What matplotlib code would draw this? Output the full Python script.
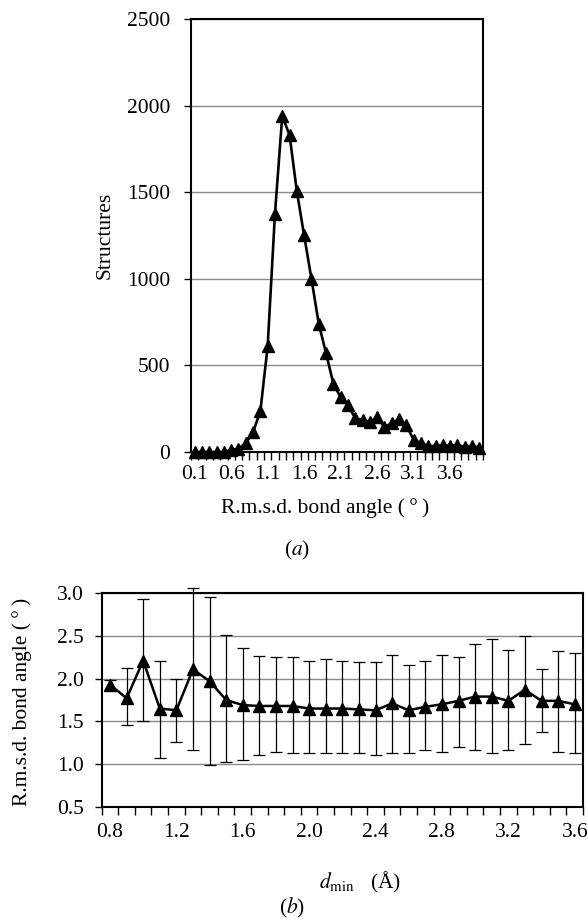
import numpy as np
import matplotlib
matplotlib.use('Agg')
import matplotlib.pyplot as plt

plt.rcParams['font.family'] = ['Liberation Serif', 'DejaVu Serif']
plt.rcParams['mathtext.fontset'] = 'stix'

# (a) histogram of r.m.s.d. bond angle
angle_bins = ['0.1', '0.2', '0.3', '0.4', '0.5', '0.6', '0.7', '0.8', '0.9', '1.0',
              '1.1', '1.2', '1.3', '1.4', '1.5', '1.6', '1.7', '1.8', '1.9', '2.0',
              '2.1', '2.2', '2.3', '2.4', '2.5', '2.6', '2.7', '2.8', '2.9', '3.0',
              '3.1', '3.2', '3.3', '3.4', '3.5', '3.6', '3.7', '3.8', '3.9', '4.0']
structures = [0, 0, 0, 0, 2, 10, 20, 50, 115, 235,
              610, 1375, 1940, 1830, 1505, 1250, 1000, 740, 570, 395,
              315, 270, 195, 185, 175, 200, 145, 165, 190, 155,
              70, 50, 35, 35, 40, 35, 40, 30, 35, 25]

# (b) mean r.m.s.d. bond angle vs d_min, with error bars
dmin_bins = ['0.8', '0.9', '1.0', '1.1', '1.2', '1.3', '1.4', '1.5', '1.6', '1.7',
             '1.8', '1.9', '2.0', '2.1', '2.2', '2.3', '2.4', '2.5', '2.6', '2.7',
             '2.8', '2.9', '3.0', '3.1', '3.2', '3.3', '3.4', '3.5', '3.6']
rmsd_mean = [1.93, 1.77, 2.21, 1.65, 1.63, 2.11, 1.97, 1.75, 1.69, 1.68,
             1.68, 1.68, 1.65, 1.65, 1.65, 1.64, 1.63, 1.71, 1.63, 1.67,
             1.70, 1.74, 1.79, 1.79, 1.74, 1.87, 1.74, 1.74, 1.70]
rmsd_upper = [1.99, 2.12, 2.93, 2.21, 2.00, 3.06, 2.96, 2.51, 2.36, 2.26,
              2.25, 2.25, 2.21, 2.23, 2.21, 2.19, 2.19, 2.28, 2.16, 2.21,
              2.28, 2.25, 2.41, 2.46, 2.33, 2.50, 2.11, 2.32, 2.30]
rmsd_lower = [1.87, 1.46, 1.50, 1.07, 1.26, 1.17, 0.99, 1.02, 1.05, 1.11,
              1.14, 1.13, 1.13, 1.13, 1.13, 1.13, 1.10, 1.13, 1.13, 1.16,
              1.14, 1.20, 1.16, 1.13, 1.16, 1.24, 1.37, 1.14, 1.13]

fig = plt.figure(figsize=(5.88, 9.21), dpi=100)

# ---- top panel ----
ax1 = fig.add_axes([191/588, 1-452/921, 292/588, 433/921])
xa = np.arange(len(angle_bins))
ax1.plot(xa, structures, color='black', lw=1.9, marker='^', ms=8,
         markeredgecolor='black', markerfacecolor='black', clip_on=False, zorder=3)
ax1.set_xlim(-0.5, len(angle_bins) - 0.5)
ax1.set_ylim(0, 2500)
ax1.set_yticks([0, 500, 1000, 1500, 2000, 2500])
ax1.yaxis.grid(True, color='#888888', lw=1.0)
ax1.set_axisbelow(True)
ax1.set_xticks(np.arange(len(angle_bins) + 1) - 0.5)
ax1.set_xticklabels([])
ax1.set_xticks(xa[::5], minor=True)
ax1.set_xticklabels(angle_bins[::5], minor=True)
ax1.tick_params(axis='x', which='major', direction='out', length=6, width=1)
ax1.tick_params(axis='x', which='minor', length=0, pad=9, labelsize=15.5)
ax1.tick_params(axis='y', direction='out', length=5, width=1, pad=10, labelsize=15.5)
for s in ax1.spines.values():
    s.set_linewidth(1.5)

fig.text(105/588, 1-235/921, 'Structures', rotation=90, ha='center', va='center',
         fontsize=15.5)
fig.text(325/588, 1-508/921, 'R.m.s.d. bond angle (\u2009\u00b0\u2009)', ha='center',
         va='center', fontsize=15.5)
fig.text(297/588, 1-550/921, '($a$)', ha='center', va='center', fontsize=15.5)

# ---- bottom panel ----
ax2 = fig.add_axes([101.7/588, 1-806.7/921, 481.3/588, 213.4/921])
xb = np.arange(len(dmin_bins))
mean = np.array(rmsd_mean)
yerr = [mean - np.array(rmsd_lower), np.array(rmsd_upper) - mean]
eb = ax2.errorbar(xb, mean, yerr=yerr, fmt='none', ecolor='black', elinewidth=0.9,
                  capsize=4, capthick=0.9, zorder=2)
for art in eb.lines[1] + eb.lines[2]:
    art.set_clip_on(False)
ax2.plot(xb, mean, color='black', lw=1.8, marker='^', ms=9,
         markeredgecolor='black', markerfacecolor='black', zorder=3)
ax2.set_xlim(-0.5, len(dmin_bins) - 0.5)
ax2.set_ylim(0.5, 3.0)
ax2.set_yticks([0.5, 1.0, 1.5, 2.0, 2.5, 3.0])
ax2.set_yticklabels(['0.5', '1.0', '1.5', '2.0', '2.5', '3.0'])
ax2.yaxis.grid(True, color='#888888', lw=1.0)
ax2.set_axisbelow(True)
ax2.set_xticks(np.arange(len(dmin_bins) + 1) - 0.5)
ax2.set_xticklabels([])
ax2.set_xticks(xb[::4], minor=True)
ax2.set_xticklabels(dmin_bins[::4], minor=True)
ax2.tick_params(axis='x', which='major', direction='out', length=6, width=1)
ax2.tick_params(axis='x', which='minor', length=0, pad=12, labelsize=15.5)
ax2.tick_params(axis='y', direction='out', length=5, width=1, pad=8, labelsize=15.5)
for s in ax2.spines.values():
    s.set_linewidth(1.5)

fig.text(22/588, 1-702/921, 'R.m.s.d. bond angle (\u2009\u00b0\u2009)', rotation=90,
         ha='center', va='center', fontsize=15.5)
fig.text(360/588, 1-882/921, r'$d_{\mathrm{min}}$   (Å)', ha='center', va='center',
         fontsize=15.5)
fig.text(292/588, 1-908/921, '($b$)', ha='center', va='center', fontsize=15.5)

fig.savefig('out.png', dpi=100)
